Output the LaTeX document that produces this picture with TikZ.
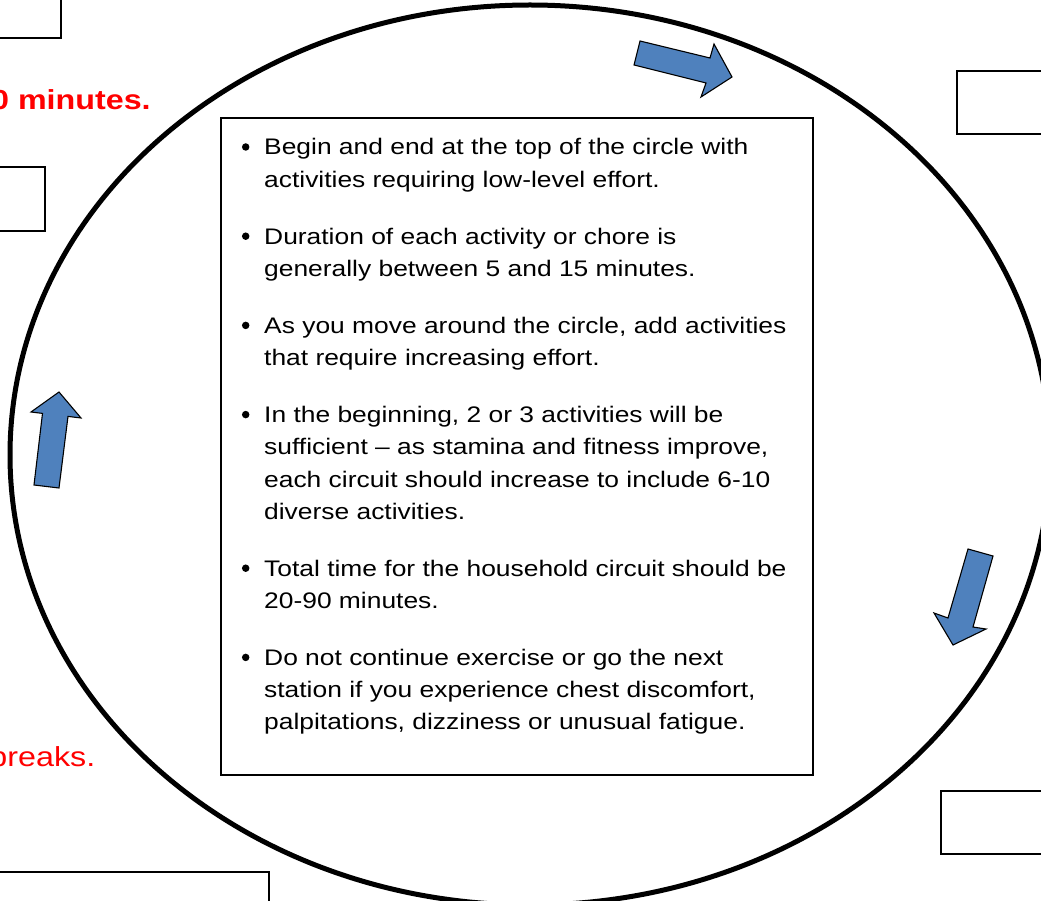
\documentclass[tikz,border=0pt]{standalone}
\usepackage{fontspec}
\newfontfamily\cardfont{Liberation Sans}[FakeStretch=1.173]
\definecolor{arrowblue}{HTML}{4F81BD}
\definecolor{alertred}{HTML}{FF0000}
\tikzset{
  ring/.style={line width=5pt, draw=black},
  rulebox/.style={draw=black, line width=2.6pt, inner sep=0pt},
  blankbox/.style={draw=black, line width=2.2pt},
  flowarrow/.style={fill=arrowblue, draw=black, line width=1.1pt, line join=miter},
  tipline/.style={anchor=base west, inner sep=0pt, font=\cardfont\fontsize{22.5}{32}\selectfont},
  tipbullet/.style={fill=black, circle, inner sep=0pt, minimum size=7.5pt},
  redbold/.style={anchor=base west, inner sep=0pt, text=alertred, font=\cardfont\bfseries\fontsize{27.5}{32}\selectfont},
  rednote/.style={anchor=base west, inner sep=0pt, text=alertred, font=\cardfont\fontsize{27.5}{32}\selectfont},
}
\begin{document}
\begin{tikzpicture}[x=1pt, y=-1pt]
  \clip (0,0) rectangle (1041,901);
  \fill[white] (0,0) rectangle (1041,901);

  % empty station boxes around the page edge
  \draw[blankbox] (-20,-20) rectangle (61,38);
  \draw[blankbox] (-20,167) rectangle (45,231);
  \draw[blankbox] (957,71) rectangle (1070,134);
  \draw[blankbox] (941,791) rectangle (1070,854);
  \draw[blankbox] (-20,872) rectangle (269,940);

  % red notes, cut by the page edge
  \node[redbold] (minutes) at (-9,110) {0 minutes.};
  \node[rednote] (breaks) at (-10.7,766.7) {breaks.};

  % the circuit
  \draw[ring] (530,455) ellipse [x radius=520, y radius=450];

  % direction arrows
  \draw[flowarrow] (640,41) -- (710,58) -- (714,44) -- (732,77) -- (701,97) -- (706,83) -- (634,65) -- cycle;
  \draw[flowarrow] (34,485) -- (42.5,413.4) -- (31,412) -- (59,392) -- (81,418) -- (68,416.4) -- (59,488) -- cycle;
  \draw[flowarrow] (968,549) -- (993,556) -- (973,627) -- (986,629) -- (953,645) -- (934,613) -- (948,618) -- cycle;

  % guidance box
  \node[rulebox, minimum width=592pt, minimum height=657pt] (rules) at (517,446.5) {};

  \foreach \y [count=\i] in {155,244.2,333.4,422.6,576.2,665.4}
    \node[tipbullet] (bullet\i) at (245.7,\y-8) {};

  \foreach \y/\t [count=\i] in {
      155/{Begin and end at the top of the circle with},
      187.2/{activities requiring low-level effort.},
      244.2/{Duration of each activity or chore is},
      276.4/{generally between 5 and 15 minutes.},
      333.4/{As you move around the circle, add activities},
      365.6/{that require increasing effort.},
      422.6/{In the beginning, 2 or 3 activities will be},
      454.8/{sufficient – as stamina and fitness improve,},
      487/{each circuit should increase to include 6-10},
      519.2/{diverse activities.},
      576.2/{Total time for the household circuit should be},
      608.4/{20-90 minutes.},
      665.4/{Do not continue exercise or go the next},
      697.6/{station if you experience chest discomfort,},
      729.8/{palpitations, dizziness or unusual fatigue.}}
    \node[tipline] (line\i) at (264,\y) {\t};
\end{tikzpicture}
\end{document}
